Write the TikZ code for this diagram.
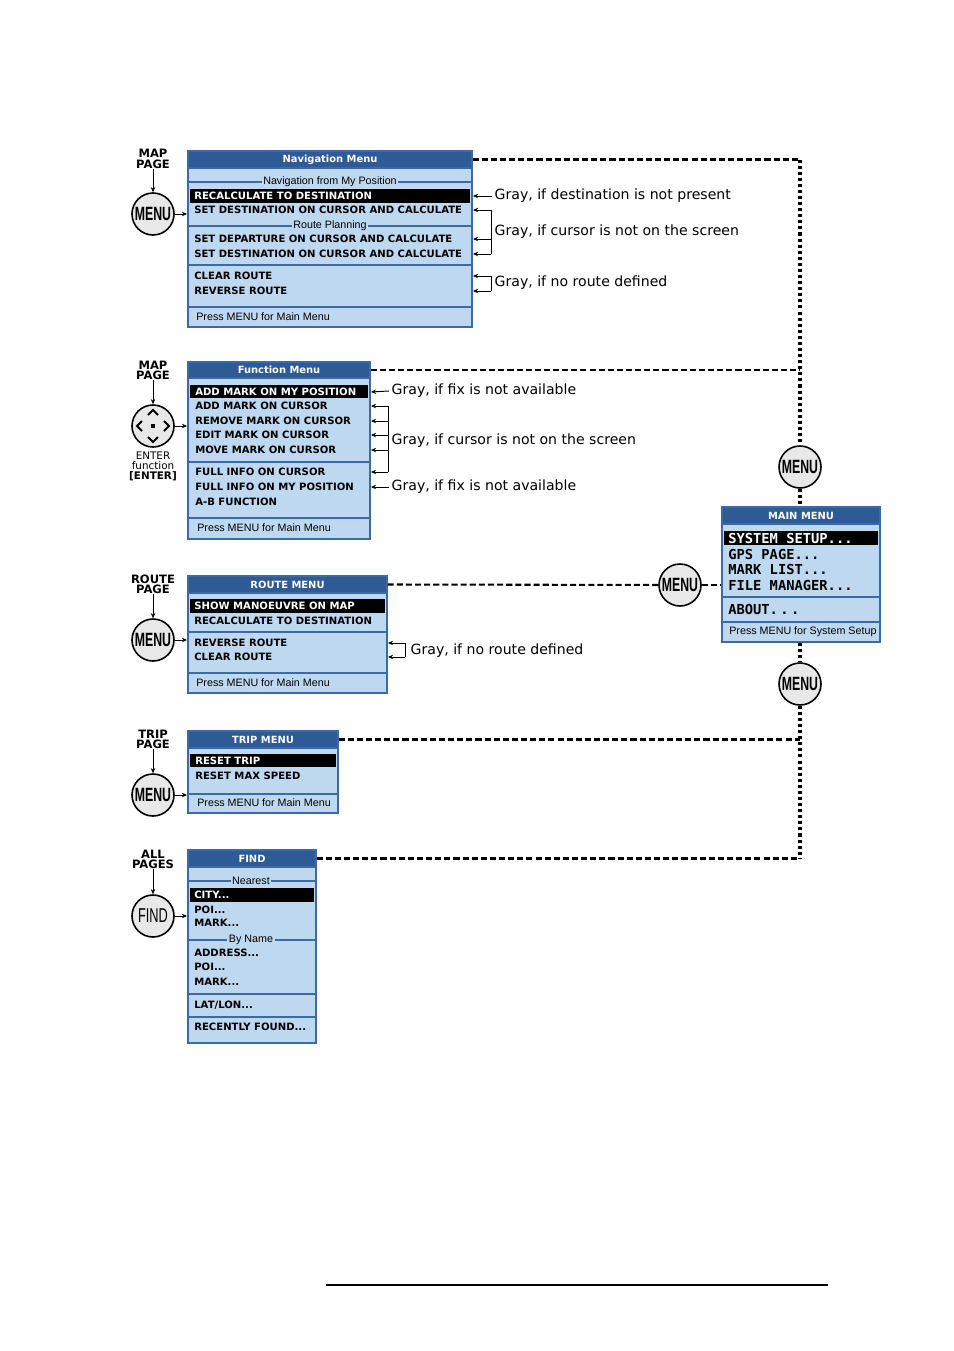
\documentclass[tikz,border=0pt]{standalone}
\usepackage{fontspec}
\setmainfont{DejaVu Sans}
\newfontfamily\lsans{Liberation Sans}
\newfontfamily\dvmono{DejaVu Sans Mono}
\usepackage{xcolor}
\usepackage{tikz}
\usetikzlibrary{arrows.meta,fit,positioning}
\definecolor{menubg}{HTML}{BED8F0}
\definecolor{titleblue}{HTML}{2E5A96}
\definecolor{edgeblue}{HTML}{3C6AA8}
\definecolor{btngray}{HTML}{E8E8E8}
\newcommand\btnlabel[1]{\scalebox{0.64}[1]{\lsans\bfseries\fontsize{12}{12}\selectfont #1}}
\tikzset{
	menu/.style={fill=menubg, draw=edgeblue, line width=1.2pt, inner sep=0pt},
	title/.style={fill=titleblue, draw=edgeblue, line width=0.8pt, inner sep=0pt},
	titletext/.style={inner sep=0pt, text=white, font=\bfseries\fontsize{6.2}{7}\selectfont},
	sep/.style={draw=edgeblue, line width=0.9pt},
	sect/.style={fill=menubg, inner sep=1pt, font=\lsans\fontsize{6.7}{7}\selectfont},
	item/.style={anchor=west, inner sep=0pt, font=\bfseries\fontsize{6.3}{7}\selectfont},
	hiitem/.style={item, text=white},
	mainitem/.style={anchor=west, inner sep=0pt, font=\dvmono\bfseries\fontsize{8.6}{9}\selectfont},
	foot/.style={anchor=west, inner sep=0pt, font=\lsans\fontsize{6.7}{7}\selectfont},
	note/.style={anchor=west, inner xsep=1.5pt, inner ysep=0pt, font=\fontsize{8.8}{10}\selectfont},
	pagelbl/.style={align=center, inner sep=0pt, font=\bfseries\fontsize{7.2}{6.4}\selectfont},
	btn/.style={circle, draw, fill=btngray, line width=1pt, minimum size=26.25pt, inner sep=0pt},
	link/.style={-{Stealth[length=3.2pt,width=2.8pt]}, line width=0.6pt},
	hdash/.style={line width=1.3pt, dash pattern=on 3.8pt off 1.9pt},
	vdash/.style={line width=1.9pt, dash pattern=on 1.9pt off 1.9pt},
	pad/.style={line width=1.2pt}
}
\begin{document}
\begin{tikzpicture}[x=0.625pt,y=-0.625pt]
	\useasboundingbox (0,0) rectangle (954,1351);

	% navigation menu
	\node[menu, fit={(188,151) (472,327)}] (nav) {};
	\node[title, fit={(188,151) (472,168)}] (navt) {};
	\node[titletext] at (navt.center) {Navigation Menu};
	\draw[sep] (189,182) -- (471,182);
	\node[sect] at (330,182) {Navigation from My Position};
	\fill (190,189) rectangle (470,203);
	\node[hiitem] (nav1) at (194,196) {RECALCULATE TO DESTINATION};
	\node[item] (nav2) at (194,210) {SET DESTINATION ON CURSOR AND CALCULATE};
	\draw[sep] (189,226) -- (471,226);
	\node[sect] at (330,226) {Route Planning};
	\node[item] (nav3) at (194,239) {SET DEPARTURE ON CURSOR AND CALCULATE};
	\node[item] (nav4) at (194,254) {SET DESTINATION ON CURSOR AND CALCULATE};
	\draw[sep] (189,265) -- (471,265);
	\node[item] (nav5) at (194,276) {CLEAR ROUTE};
	\node[item] (nav6) at (194,291) {REVERSE ROUTE};
	\draw[sep] (189,307) -- (471,307);
	\node[foot] at (196,317) {Press MENU for Main Menu};

	\node[pagelbl] (navpg) at (153,159) {MAP\\PAGE};
	\node[btn] (navb) at (153,214) {\btnlabel{MENU}};
	\draw[link] (navpg) -- (navb);
	\draw[link] (navb) -- (navb -| nav.west);

	\node[note] (nn1) at (492,196) {Gray, if destination is not present};
	\draw[link] (nn1.west) -- (nav1 -| nav.east);
	\coordinate (nbk) at (491,0);
	\draw[line width=0.6pt] (nav2 -| nbk) -- (nav4 -| nbk);
	\foreach \i in {nav2,nav3,nav4}
		\draw[link] (\i -| nbk) -- (\i -| nav.east);
	\node[note] at (492,232) {Gray, if cursor is not on the screen};
	\draw[line width=0.6pt] (nav5 -| nbk) -- (nav6 -| nbk);
	\foreach \i in {nav5,nav6}
		\draw[link] (\i -| nbk) -- (\i -| nav.east);
	\node[note] at (492,283) {Gray, if no route defined};

	% function menu
	\node[menu, fit={(188,362) (370,539)}] (fun) {};
	\node[title, fit={(188,362) (370,378)}] (funt) {};
	\node[titletext] at (funt.center) {Function Menu};
	\fill (190,385) rectangle (368,398);
	\node[hiitem] (fun1) at (195,392) {ADD MARK ON MY POSITION};
	\node[item] (fun2) at (195,406) {ADD MARK ON CURSOR};
	\node[item] (fun3) at (195,421) {REMOVE MARK ON CURSOR};
	\node[item] (fun4) at (195,435) {EDIT MARK ON CURSOR};
	\node[item] (fun5) at (195,450) {MOVE MARK ON CURSOR};
	\draw[sep] (189,462) -- (369,462);
	\node[item] (fun6) at (195,472) {FULL INFO ON CURSOR};
	\node[item] (fun7) at (195,487) {FULL INFO ON MY POSITION};
	\node[item] (fun8) at (195,502) {A-B FUNCTION};
	\draw[sep] (189,518) -- (369,518);
	\node[foot] at (197,528) {Press MENU for Main Menu};

	\node[pagelbl] (funpg) at (153,370) {MAP\\PAGE};
	\node[btn] (funb) at (153,426) {};
	\draw[pad] ([shift={(-5,-11)}]funb.center) -- ([shift={(0,-16)}]funb.center) -- ([shift={(5,-11)}]funb.center);
	\draw[pad] ([shift={(-5,11)}]funb.center) -- ([shift={(0,16)}]funb.center) -- ([shift={(5,11)}]funb.center);
	\draw[pad] ([shift={(-11,-5)}]funb.center) -- ([shift={(-16,0)}]funb.center) -- ([shift={(-11,5)}]funb.center);
	\draw[pad] ([shift={(11,-5)}]funb.center) -- ([shift={(16,0)}]funb.center) -- ([shift={(11,5)}]funb.center);
	\fill ([shift={(-1.6,-1.6)}]funb.center) rectangle ([shift={(1.6,1.6)}]funb.center);
	\node[align=center, inner sep=0pt, font=\fontsize{6.5}{6.25}\selectfont] (funlbl) at (153,466) {ENTER\\function\\\textbf{[ENTER]}};
	\draw[link] (funpg) -- (funb);
	\draw[link] (funb) -- (funb -| fun.west);

	\node[note] (fn1) at (389,391) {Gray, if fix is not available};
	\draw[link] (fn1.west) -- (fun1 -| fun.east);
	\coordinate (fbk) at (388,0);
	\draw[line width=0.6pt] (fun2 -| fbk) -- (fun6 -| fbk);
	\foreach \i in {fun2,fun3,fun4,fun5,fun6}
		\draw[link] (\i -| fbk) -- (\i -| fun.east);
	\node[note] at (389,441) {Gray, if cursor is not on the screen};
	\node[note] (fn3) at (389,487) {Gray, if fix is not available};
	\draw[link] (fn3.west) -- (fun7 -| fun.east);

	% route menu
	\node[menu, fit={(188,576) (387,693)}] (rou) {};
	\node[title, fit={(188,576) (387,593)}] (rout) {};
	\node[titletext] at (rout.center) {ROUTE MENU};
	\fill (190,599) rectangle (385,613);
	\node[hiitem] (rou1) at (194,606) {SHOW MANOEUVRE ON MAP};
	\node[item] (rou2) at (194,621) {RECALCULATE TO DESTINATION};
	\draw[sep] (189,632) -- (386,632);
	\node[item] (rou3) at (194,643) {REVERSE ROUTE};
	\node[item] (rou4) at (194,657) {CLEAR ROUTE};
	\draw[sep] (189,673) -- (386,673);
	\node[foot] at (196,683) {Press MENU for Main Menu};

	\node[pagelbl] (roupg) at (153,584) {ROUTE\\PAGE};
	\node[btn] (roub) at (153,640) {\btnlabel{MENU}};
	\draw[link] (roupg) -- (roub);
	\draw[link] (roub) -- (roub -| rou.west);

	\coordinate (rbk) at (405,0);
	\draw[line width=0.6pt] (rou3 -| rbk) -- (rou4 -| rbk);
	\foreach \i in {rou3,rou4}
		\draw[link] (\i -| rbk) -- (\i -| rou.east);
	\node[note] at (408,651) {Gray, if no route defined};

	% trip menu
	\node[menu, fit={(188,731) (338,813)}] (tri) {};
	\node[title, fit={(188,731) (338,748)}] (trit) {};
	\node[titletext] at (trit.center) {TRIP MENU};
	\fill (190,754) rectangle (336,767);
	\node[hiitem] (tri1) at (195,761) {RESET TRIP};
	\node[item] (tri2) at (195,776) {RESET MAX SPEED};
	\draw[sep] (189,794) -- (337,794);
	\node[foot] at (197,803) {Press MENU for Main Menu};

	\node[pagelbl] (tripg) at (153,739) {TRIP\\PAGE};
	\node[btn] (trib) at (153,795) {\btnlabel{MENU}};
	\draw[link] (tripg) -- (trib);
	\draw[link] (trib) -- (trib -| tri.west);

	% find menu
	\node[menu, fit={(188,850) (316,1043)}] (fnd) {};
	\node[title, fit={(188,850) (316,867)}] (fndt) {};
	\node[titletext] at (fndt.center) {FIND};
	\draw[sep] (189,881) -- (315,881);
	\node[sect] at (251,881) {Nearest};
	\fill (190,888) rectangle (314,902);
	\node[hiitem] (fnd1) at (194,895) {CITY...};
	\node[item] (fnd2) at (194,910) {POI...};
	\node[item] (fnd3) at (194,923) {MARK...};
	\draw[sep] (189,940) -- (315,940);
	\node[sect] at (251,940) {By Name};
	\node[item] (fnd4) at (194,953) {ADDRESS...};
	\node[item] (fnd5) at (194,967) {POI...};
	\node[item] (fnd6) at (194,982) {MARK...};
	\draw[sep] (189,994) -- (315,994);
	\node[item] (fnd7) at (194,1005) {LAT/LON...};
	\draw[sep] (189,1017) -- (315,1017);
	\node[item] (fnd8) at (194,1027) {RECENTLY FOUND...};

	\node[pagelbl] (fndpg) at (153,859) {ALL\\PAGES};
	\node[btn] (fndb) at (153,916) {\scalebox{0.64}[1]{\lsans\fontsize{12.5}{12.5}\selectfont FIND}};
	\draw[link] (fndpg) -- (fndb);
	\draw[link] (fndb) -- (fndb -| fnd.west);

	% main menu
	\node[menu, fit={(722,507) (880,642)}] (mm) {};
	\node[title, fit={(722,507) (880,524)}] (mmt) {};
	\node[titletext] at (mmt.center) {MAIN MENU};
	\fill (724,531) rectangle (878,545);
	\node[mainitem, text=white] (mm1) at (728,538) {SYSTEM SETUP...};
	\node[mainitem] (mm2) at (728,554) {GPS PAGE...};
	\node[mainitem] (mm3) at (728,569) {MARK LIST...};
	\node[mainitem] (mm4) at (728,585) {FILE MANAGER...};
	\draw[sep] (723,597) -- (879,597);
	\node[mainitem] (mm5) at (728,609) {ABOUT.\kern1.5pt.\kern1.5pt.};
	\draw[sep] (723,622) -- (879,622);
	\node[foot] at (729,632) {Press MENU for System Setup};

	\node[btn] (mtop) at (800,467) {\btnlabel{MENU}};
	\node[btn] (mleft) at (680,585) {\btnlabel{MENU}};
	\node[btn] (mbot) at (800,684) {\btnlabel{MENU}};

	% dashed links to the main menu
	\draw[hdash] (navt.east) -- (navt.east -| mtop);
	\draw[vdash] (navt.east -| mtop) -- (mtop);
	\draw[hdash] (funt.east) -- (funt.east -| mtop);
	\draw[vdash] (mtop) -- (mtop |- mm.north);
	\draw[hdash] (rout.east) -- (mleft);
	\draw[hdash] (mleft) -- (mleft -| mm.west);
	\draw[vdash] (mbot |- mm.south) -- (mbot);
	\draw[vdash] (mbot) -- (mbot |- fndt.east);
	\draw[hdash] (trit.east) -- (trit.east -| mbot);
	\draw[hdash] (fndt.east) -- (fndt.east -| mbot);

	\draw[line width=0.8pt] (326,1285) -- (828,1285);
\end{tikzpicture}
\end{document}
